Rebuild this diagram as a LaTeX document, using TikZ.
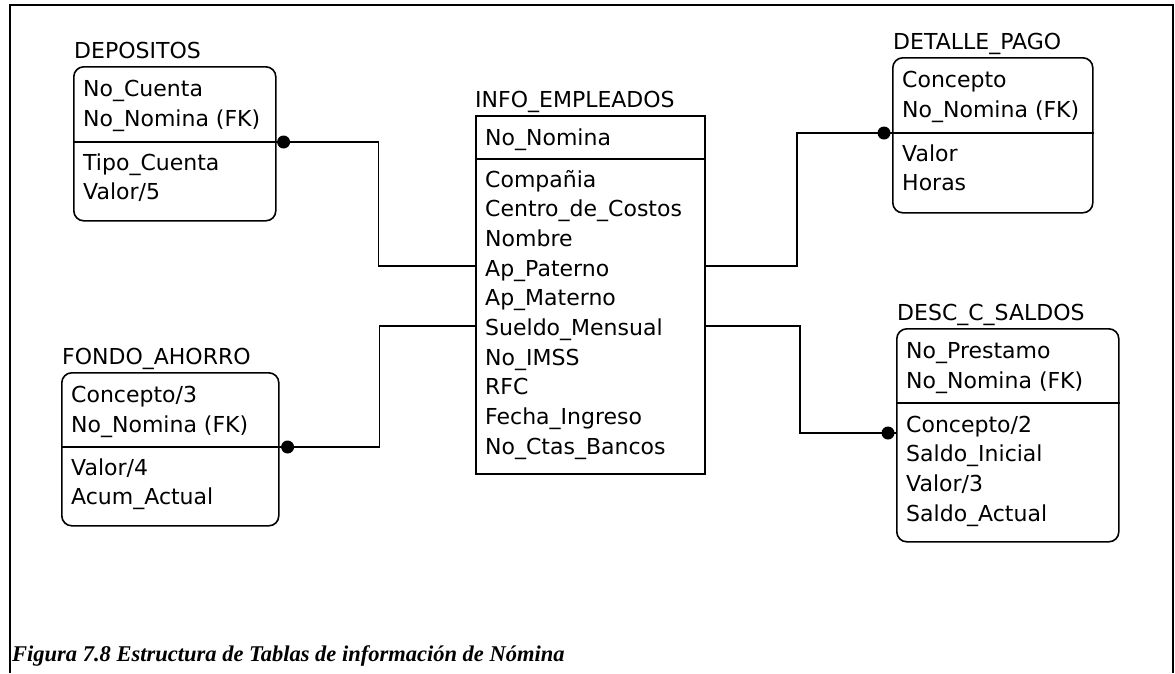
\documentclass[tikz,border=0pt]{standalone}
\usepackage{fontspec}
\newfontfamily\erfont{DejaVu Sans}
\newfontfamily\piefont{Liberation Serif}
\usetikzlibrary{positioning}
\newcommand\ertxt{\erfont\fontsize{22}{29.7}\selectfont}
\newcommand\pietxt{\piefont\bfseries\itshape\fontsize{22.5}{27}\selectfont}

\begin{document}
\begin{tikzpicture}[
  x=1pt,y=-1pt,
  tabla/.style={draw,line width=1.6pt,rounded corners=10pt,
                anchor=north west,inner sep=0pt},
  entidad/.style={draw,line width=1.6pt,anchor=north west,inner sep=0pt},
  titulo/.style={anchor=base west,inner sep=0pt,font=\ertxt},
  campo/.style={anchor=base west,inner sep=0pt,font=\ertxt},
  linea/.style={line width=1.6pt},
  rel/.style={line width=1.4pt},
  punto/.style={fill=black}
]
  \useasboundingbox (0,0) rectangle (1175,673);
  % marco
  \draw[line width=1.8pt] (10,673) -- (10,5) -- (1173,5) -- (1173,673);

  % tabla central
  \node[entidad,minimum width=229pt,minimum height=358pt] (info) at (475,115) {};
  \node[titulo] (info-t) at ([yshift=8pt]info.north west) {INFO\_EMPLEADOS};
  \draw[linea] ([yshift=-44pt]info.north west) -- ([yshift=-44pt]info.north east) coordinate (info-d);
  \node[campo] (info-k0) at ([xshift=10pt,yshift=-30pt]info.north west) {No\_Nomina};
  \foreach \c [count=\i from 0] in {Compañia,Centro\_de\_Costos,Nombre,Ap\_Paterno,
      Ap\_Materno,Sueldo\_Mensual,No\_IMSS,RFC,Fecha\_Ingreso,No\_Ctas\_Bancos}
    \node[campo] (info-a\i) at ([xshift=10pt,yshift={-72-29.7*\i}]info.north west) {\c};
  \coordinate (info-w1) at ([yshift=-151pt]info.north west);
  \coordinate (info-w2) at ([yshift=-211pt]info.north west);
  \coordinate (info-e1) at ([yshift=-151pt]info.north east);
  \coordinate (info-e2) at ([yshift=-211pt]info.north east);

  % DEPOSITOS
  \node[tabla,minimum width=202pt,minimum height=154pt] (depositos) at (73,66) {};
  \node[titulo] (depositos-t) at ([xshift=1pt,yshift=8pt]depositos.north west) {DEPOSITOS};
  \draw[linea] ([yshift=-76pt]depositos.north west) -- ([yshift=-76pt]depositos.north east) coordinate (depositos-d);
  \foreach \c [count=\i from 0] in {No\_Cuenta,No\_Nomina (FK)}
    \node[campo] (depositos-k\i) at ([xshift=10pt,yshift={-30-30*\i}]depositos.north west) {\c};
  \foreach \c [count=\i from 0] in {Tipo\_Cuenta,Valor/5}
    \node[campo] (depositos-a\i) at ([xshift=10pt,yshift={-104-29.7*\i}]depositos.north west) {\c};

  % DETALLE_PAGO
  \node[tabla,minimum width=200pt,minimum height=155pt] (detalle) at (892,57) {};
  \node[titulo] (detalle-t) at ([xshift=1pt,yshift=8pt]detalle.north west) {DETALLE\_PAGO};
  \draw[linea] ([yshift=-76pt]detalle.north west) coordinate (detalle-d) -- ([yshift=-76pt]detalle.north east);
  \foreach \c [count=\i from 0] in {Concepto,No\_Nomina (FK)}
    \node[campo] (detalle-k\i) at ([xshift=10pt,yshift={-30-30*\i}]detalle.north west) {\c};
  \foreach \c [count=\i from 0] in {Valor,Horas}
    \node[campo] (detalle-a\i) at ([xshift=10pt,yshift={-104-29.7*\i}]detalle.north west) {\c};

  % FONDO_AHORRO
  \node[tabla,minimum width=217pt,minimum height=153pt] (fondo) at (61,372) {};
  \node[titulo] (fondo-t) at ([xshift=1pt,yshift=8pt]fondo.north west) {FONDO\_AHORRO};
  \draw[linea] ([yshift=-75pt]fondo.north west) -- ([yshift=-75pt]fondo.north east) coordinate (fondo-d);
  \foreach \c [count=\i from 0] in {Concepto/3,No\_Nomina (FK)}
    \node[campo] (fondo-k\i) at ([xshift=10pt,yshift={-30-30*\i}]fondo.north west) {\c};
  \foreach \c [count=\i from 0] in {Valor/4,Acum\_Actual}
    \node[campo] (fondo-a\i) at ([xshift=10pt,yshift={-103-29.7*\i}]fondo.north west) {\c};

  % DESC_C_SALDOS
  \node[tabla,minimum width=222pt,minimum height=213pt] (desc) at (896,328) {};
  \node[titulo] (desc-t) at ([xshift=1pt,yshift=8pt]desc.north west) {DESC\_C\_SALDOS};
  \draw[linea] ([yshift=-75pt]desc.north west) -- ([yshift=-75pt]desc.north east);
  \coordinate (desc-r) at ([yshift=-105pt]desc.north west);
  \foreach \c [count=\i from 0] in {No\_Prestamo,No\_Nomina (FK)}
    \node[campo] (desc-k\i) at ([xshift=10pt,yshift={-30-30*\i}]desc.north west) {\c};
  \foreach \c [count=\i from 0] in {Concepto/2,Saldo\_Inicial,Valor/3,Saldo\_Actual}
    \node[campo] (desc-a\i) at ([xshift=10pt,yshift={-104-29.7*\i}]desc.north west) {\c};

  % relaciones
  \draw[rel] (depositos-d) -- ++(102,0) |- (info-w1);
  \draw[rel] (fondo-d) -- ++(100,0) |- (info-w2);
  \draw[rel] (detalle-d) -- ++(-95,0) |- (info-e1);
  \draw[rel] (desc-r) -- ++(-96,0) |- (info-e2);
  \fill[punto] ([xshift=7pt]depositos-d) circle (6.5pt);
  \fill[punto] ([xshift=8pt]fondo-d) circle (6.5pt);
  \fill[punto] ([xshift=-8pt]detalle-d) circle (6.5pt);
  \fill[punto] ([xshift=-8pt]desc-r) circle (6.5pt);

  % pie de figura
  \node[anchor=base west,inner sep=0pt,font=\pietxt] (pie) at (12,661)
    {Figura 7.8 Estructura de Tablas de información de Nómina};
\end{tikzpicture}
\end{document}
